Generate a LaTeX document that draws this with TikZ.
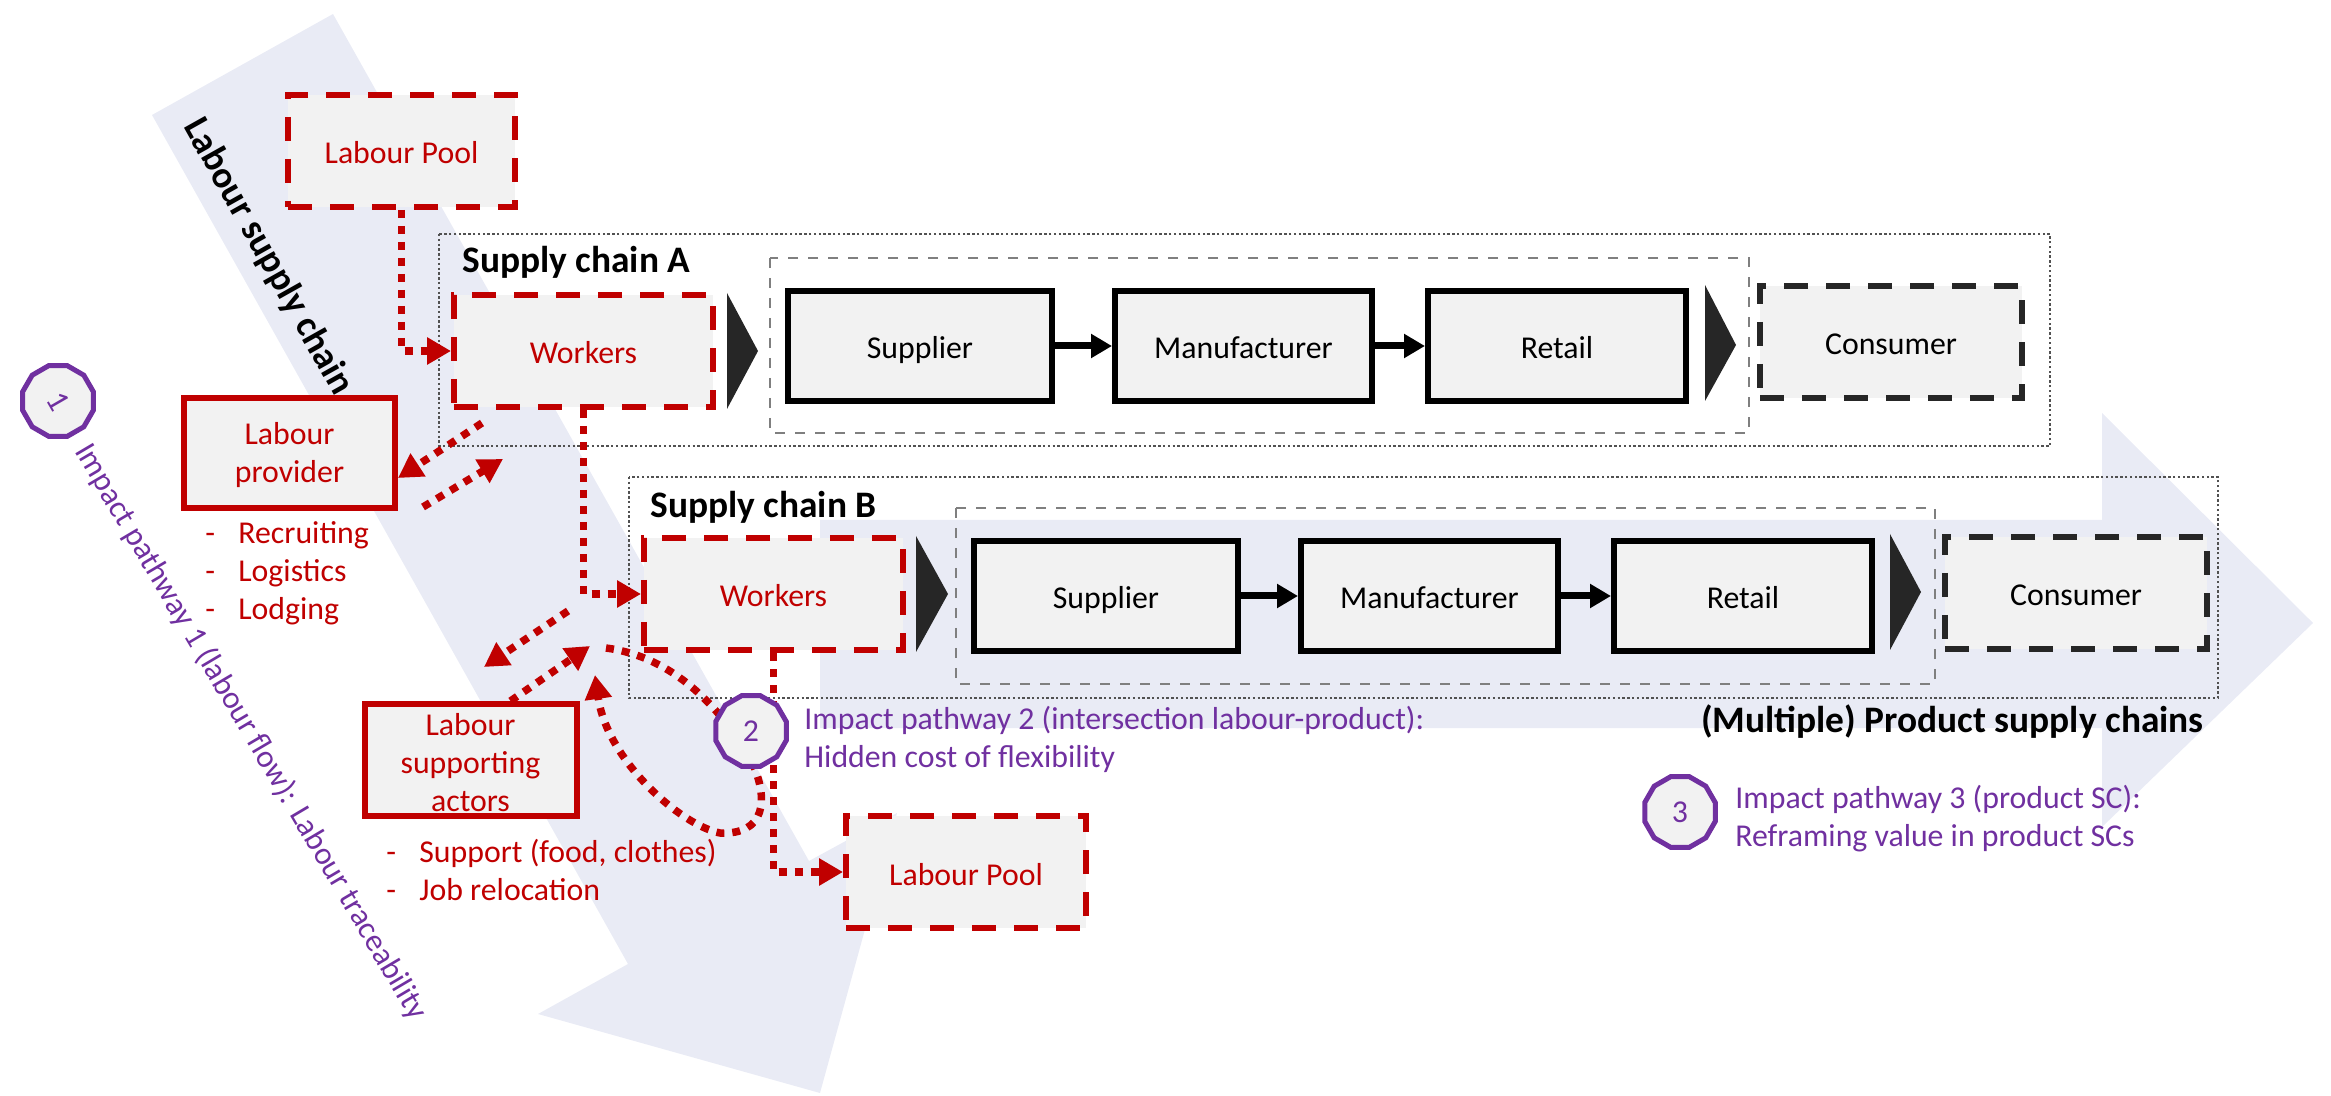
\documentclass[tikz,border=0pt]{standalone}
\usepackage{fontspec}
\setmainfont{Carlito}
\usetikzlibrary{positioning, arrows.meta, shapes.geometric}
\definecolor{labourred}{HTML}{C00000}
\definecolor{pathpurple}{HTML}{7030A0}
\definecolor{bandblue}{HTML}{E9EBF5}
\definecolor{boxgray}{HTML}{F2F2F2}
\definecolor{darkgray}{HTML}{262626}
\definecolor{midgray}{HTML}{7F7F7F}
\newcommand{\listdash}{\makebox[16.5pt][l]{-}}
\newcommand{\lowerline}{\rule{0pt}{13.5pt}}
\tikzstyle{plain} = [font=\fontsize{15.9}{19}\selectfont, inner sep=0pt]
\tikzstyle{title} = [font=\fontsize{18.7}{22}\selectfont\bfseries, text=black, inner sep=0pt]
\tikzstyle{purpletext} = [plain, text=pathpurple, align=left]
\tikzstyle{listtext} = [plain, text=labourred, align=left]
\tikzstyle{poolbox} = [rectangle, plain, minimum height=56pt, text height=13pt, text depth=0pt, text centered, text=labourred, fill=boxgray, draw=labourred, line width=3pt, dash pattern=on 12pt off 9pt]
\tikzstyle{actorbox} = [rectangle, plain, align=center, text=labourred, fill=boxgray, draw=labourred, line width=3pt]
\tikzstyle{chainbox} = [rectangle, plain, minimum height=55pt, text height=13pt, text depth=0pt, text centered, text=black, fill=boxgray, draw=black, line width=3pt]
\tikzstyle{consumerbox} = [rectangle, plain, minimum width=131pt, minimum height=56pt, text height=13pt, text depth=0pt, text centered, text=black, fill=boxgray, draw=darkgray, line width=3pt, dash pattern=on 12pt off 9pt]
\tikzstyle{pathcircle} = [regular polygon, regular polygon sides=12, plain, minimum size=36.5pt, text=pathpurple, fill=boxgray, draw=pathpurple, line width=2.5pt]
\tikzstyle{framedot} = [draw=darkgray!80, line width=1.2pt, dash pattern=on 1.2pt off 1.2pt]
\tikzstyle{framedash} = [draw=midgray, line width=1.2pt, dash pattern=on 5pt off 5pt]
\tikzstyle{arrow} = [line width=3.5pt, black, -{Triangle[length=10.5pt, width=11.5pt]}]
\tikzstyle{dotarrow} = [line width=3.75pt, labourred, dash pattern=on 4pt off 4pt, -{Triangle[length=12pt, width=13pt]}]
\begin{document}
\begin{tikzpicture}[x=0.5pt, y=-0.5pt]
    \useasboundingbox (0,0) rectangle (2331,1096);

    % Background bands
    \fill [bandblue] (333,14) -- (809,861) -- (897,813) -- (820,1093) -- (538,1014) -- (628,964) -- (152,115) -- cycle;
    \fill [bandblue] (820,520) -- (2102,520) -- (2102,413) -- (2313,623) -- (2102,827) -- (2102,728) -- (820,728) -- cycle;
    \node (labourTitle) [title, rotate=-60.7] at (268,257) {Labour supply chain};

    % Frames
    \draw [framedot] (439,234) rectangle (2050,446);
    \draw [framedot] (629,477) rectangle (2218,698);
    \draw [framedash] (770,258) rectangle (1749,433);
    \draw [framedash] (956,508) rectangle (1935,684);

    % Nodes
    \node (poolTop) [poolbox, minimum width=113.5pt] at (401.5,151) {Labour Pool};
    \node (workersA) [poolbox, minimum width=129.5pt] at (583.5,351) {Workers};
    \node (workersB) [poolbox, minimum width=129.5pt] at (773.5,594) {Workers};
    \node (poolBottom) [poolbox, minimum width=120pt] at (966,872) {Labour Pool};
    \node (provider) [actorbox, minimum width=105.5pt, minimum height=55pt] at (289.5,453) {\lowerline Labour\\provider};
    \node (actors) [actorbox, minimum width=106pt, minimum height=56pt] at (470.5,760) {\lowerline Labour\\supporting\\actors};

    \node (supplierA) [chainbox, minimum width=132pt] at (920,346) {Supplier};
    \node (makerA) [chainbox, minimum width=128.5pt] at (1243.5,346) {Manufacturer};
    \node (retailA) [chainbox, minimum width=129pt] at (1557,346) {Retail};
    \node (consumerA) [consumerbox] at (1891,342) {Consumer};
    \node (supplierB) [chainbox, minimum width=132pt] at (1106,596) {Supplier};
    \node (makerB) [chainbox, minimum width=128.5pt] at (1429.5,596) {Manufacturer};
    \node (retailB) [chainbox, minimum width=129pt] at (1743,596) {Retail};
    \node (consumerB) [consumerbox] at (2076,593) {Consumer};

    % Flow markers
    \fill [darkgray] (727,293) -- (758,351) -- (727,409) -- cycle;
    \fill [darkgray] (1705,285) -- (1736,345) -- (1705,401) -- cycle;
    \fill [darkgray] (916,536) -- (948,594) -- (916,652) -- cycle;
    \fill [darkgray] (1890,534) -- (1921,592) -- (1890,650) -- cycle;

    % Texts
    \node (chainA) [title, anchor=west] at (462,262) {Supply chain A};
    \node (chainB) [title, anchor=west] at (650,507) {Supply chain B};
    \node (multiple) [title, anchor=east] at (2204,722) {(Multiple) Product supply chains};
    \node (providerList) [listtext, anchor=west] at (205,573) {\listdash Recruiting\\\listdash Logistics\\\listdash Lodging};
    \node (actorsList) [listtext, anchor=west] at (386,870) {\listdash Support (food, clothes)\\\listdash Job relocation};
    \node (pathOneText) [purpletext, rotate=-59.4] at (251,732) {Impact pathway 1 (labour flow): Labour traceability};
    \node (pathTwoText) [purpletext, anchor=west] at (804,739) {Impact pathway 2 (intersection labour-product):\\Hidden cost of flexibility};
    \node (pathThreeText) [purpletext, anchor=west] at (1735,819) {Impact pathway 3 (product SC):\\Reframing value in product SCs};

    % Free ends of the arrows
    \coordinate (providerTip) at ([yshift=-12.5pt]provider.east);
    \coordinate (providerOutStart) at (423,507);
    \coordinate (providerOutEnd) at (503,459);
    \coordinate (providerInStart) at (482,423);
    \coordinate (actorsInStart) at (568,611);
    \coordinate (actorsInEnd) at (484,667);
    \coordinate (actorsOutStart) at ([xshift=20pt]actors.north);
    \coordinate (actorsOutEnd) at (590,646);
    \coordinate (loopStart) at (606,648);
    \coordinate (loopMid) at (751,760);
    \coordinate (loopBottom) at (720,833);
    \coordinate (loopEnd) at (595,675);

    % Arrows
    \draw [arrow] (supplierA) -- (makerA);
    \draw [arrow] (makerA) -- (retailA);
    \draw [arrow] (supplierB) -- (makerB);
    \draw [arrow] (makerB) -- (retailB);
    \draw [dotarrow] (poolTop.south) |- (workersA.west);
    \draw [dotarrow] (workersA.south) |- (workersB.west);
    \draw [dotarrow] (workersB.south) |- (poolBottom.west);
    \draw [dotarrow] (providerInStart) -- (providerTip);
    \draw [dotarrow] (providerOutStart) -- (providerOutEnd);
    \draw [dotarrow] (actorsInStart) -- (actorsInEnd);
    \draw [dotarrow] (actorsOutStart) -- (actorsOutEnd);
    \draw [dotarrow] (loopStart) .. controls (660,655) and (710,690) .. (loopMid) .. controls (770,800) and (765,835) .. (loopBottom) .. controls (680,825) and (607,760) .. (loopEnd);

    % Pathway markers
    \node (pathOne) [pathcircle, rotate=-60] at (58,401) {1};
    \node (pathTwo) [pathcircle] at (751,731) {2};
    \node (pathThree) [pathcircle] at (1680,812) {3};
\end{tikzpicture}
\end{document}
